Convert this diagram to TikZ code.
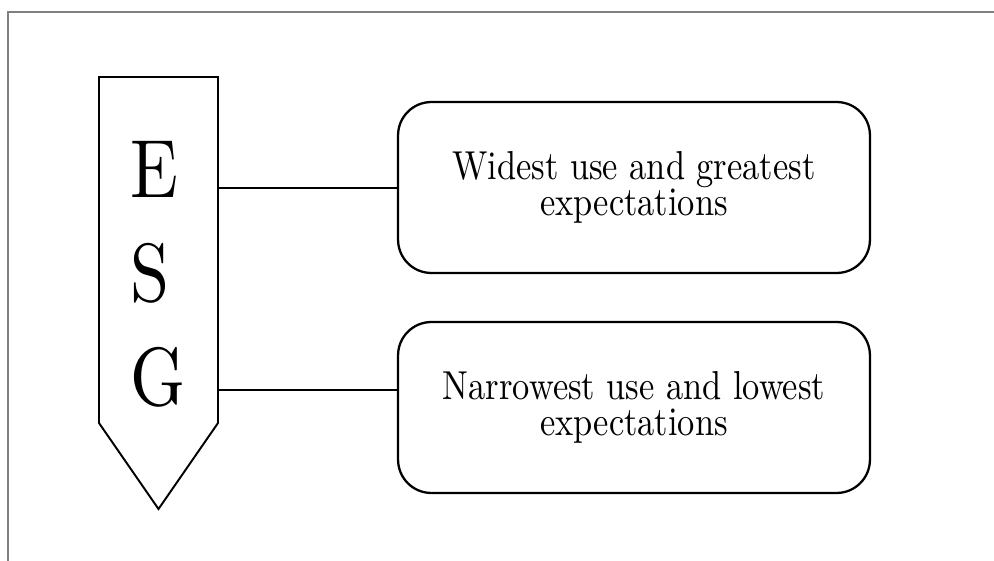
\documentclass[tikz,border=0pt]{standalone}
\usepackage{graphicx}
\usetikzlibrary{positioning}

% letters and box texts are set at 10pt, scaled up, a little taller than wide
\newcommand{\bigletter}[1]{\scalebox{4}[4.7]{#1}}
\newcommand{\boxline}[1]{\scalebox{1.96}[2.3]{#1}}

\begin{document}
\begin{tikzpicture}[x=0.02cm, y=-0.02cm, line width=1.1pt,
    letter/.style = {anchor=base west, inner sep=0pt, font=\fontsize{10}{12}\selectfont},
    info/.style = {draw, rounded corners=19pt, line width=1.3pt, minimum width=9.44cm,
        minimum height=3.42cm, align=center, font=\fontsize{10}{20.4}\selectfont}]
    \useasboundingbox (0,0) rectangle (994,561);
    % frame
    \draw[gray, line width=0.8pt] (994,12) -- (8,12) -- (8,561);

    % the ESG arrow
    \draw (99,77) -- (218,77) -- (218,423) -- (158.5,509) -- (99,423) -- cycle;
    \node[letter] (E) at (130,197) {\bigletter{E}};
    \node[letter] (S) at (130,301) {\bigletter{S}};
    \node[letter] (G) at (130,405) {\bigletter{G}};
    \coordinate (eR) at (218,188);
    \coordinate (gR) at (218,390);

    \node[info] (wide) at (634,187.5) {\boxline{Widest use and greatest}\\ \boxline{expectations}};
    \node[info] (narrow) at (634,407.5) {\boxline{Narrowest use and lowest}\\ \boxline{expectations}};

    \draw (eR) -- (eR -| wide.west);
    \draw (gR) -- (gR -| narrow.west);
\end{tikzpicture}
\end{document}
